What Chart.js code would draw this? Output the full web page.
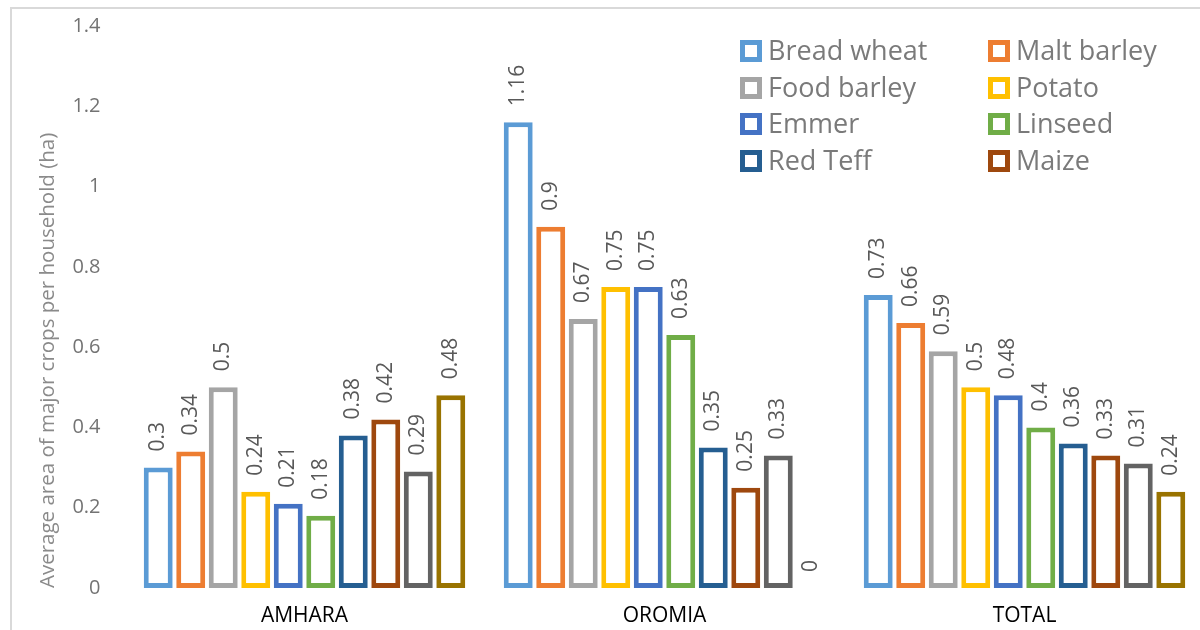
<!DOCTYPE html>
<html>
<head>
<meta charset="utf-8">
<title>Average area of major crops per household</title>
<script src="https://cdn.jsdelivr.net/npm/chart.js@4.4.0/dist/chart.umd.min.js"></script>
<style>
  html, body { margin: 0; padding: 0; background: #fff; overflow: hidden; }
  #wrap { position: absolute; left: 0; top: 0; width: 1215px; height: 630px; }
  #frame {
    position: absolute; left: 10px; top: 7px; width: 1300px; height: 700px;
    border-left: 2px solid #d9d9d9; border-top: 2px solid #d9d9d9;
    pointer-events: none;
  }
</style>
</head>
<body>
<div id="wrap"><canvas id="cropChart"></canvas></div>
<div id="frame"></div>
<script>
// ========================
// DATA
// ========================
const regions = ["AMHARA", "OROMIA", "TOTAL"];

const crops = [
  "Bread wheat", "Malt barley", "Food barley", "Potato", "Emmer",
  "Linseed", "Red Teff", "Maize", "Crop 9", "Crop 10"
];

// area per household (ha), one row per region, crops in the order above
const amhara = [0.3, 0.34, 0.5, 0.24, 0.21, 0.18, 0.38, 0.42, 0.29, 0.48];
const oromia = [1.16, 0.9, 0.67, 0.75, 0.75, 0.63, 0.35, 0.25, 0.33, 0];
const total  = [0.73, 0.66, 0.59, 0.5, 0.48, 0.4, 0.36, 0.33, 0.31, 0.24];

const yTicks = [0, 0.2, 0.4, 0.6, 0.8, 1, 1.2, 1.4];

const colors = [
  "#5B9BD5", "#ED7D31", "#A5A5A5", "#FFC000", "#4472C4",
  "#70AD47", "#255E91", "#9E480E", "#636363", "#997300"
];

// only the first eight crops are listed in the key
const legendCount = 8;

const FONT = "'Open Sans', sans-serif";

// ========================
// PLUGINS
// ========================
// value labels, turned on their side above each bar
const barValueLabels = {
  id: "barValueLabels",
  afterDatasetsDraw(chart) {
    const ctx = chart.ctx;
    ctx.save();
    ctx.fillStyle = "#595959";
    ctx.font = "21px " + FONT;
    ctx.textAlign = "left";
    ctx.textBaseline = "middle";
    chart.data.datasets.forEach((ds, i) => {
      const meta = chart.getDatasetMeta(i);
      meta.data.forEach((bar, j) => {
        ctx.save();
        ctx.translate(bar.x, bar.y - 16);
        ctx.rotate(-Math.PI / 2);
        ctx.fillText(String(ds.data[j]), 0, 0);
        ctx.restore();
      });
    });
    ctx.restore();
  }
};

// two-column key in the upper right
const boxKey = {
  id: "boxKey",
  afterDraw(chart) {
    const ctx = chart.ctx;
    const colX = [740, 988];
    const rowY = [51, 88, 124, 161];
    const box = 22;
    ctx.save();
    ctx.font = "27px " + FONT;
    ctx.textBaseline = "middle";
    ctx.textAlign = "left";
    for (let k = 0; k < legendCount; k++) {
      const x = colX[k % 2];
      const y = rowY[Math.floor(k / 2)];
      ctx.fillStyle = colors[k];
      ctx.fillRect(x, y - box / 2, box, box);
      ctx.fillStyle = "#fff";
      ctx.fillRect(x + 5, y - box / 2 + 5, box - 10, box - 10);
      ctx.fillStyle = "#7a7a7a";
      ctx.fillText(crops[k], x + 28, y + 1);
    }
    ctx.restore();
  }
};

// ========================
// CHART
// ========================
const rows = [amhara, oromia, total];

const datasets = crops.map((name, k) => ({
  label: name,
  data: rows.map(r => r[k]),
  backgroundColor: "#ffffff",
  borderColor: colors[k],
  borderWidth: 5,
  borderSkipped: false,
  barPercentage: 0.89,
  categoryPercentage: 0.903
}));

new Chart(document.getElementById("cropChart"), {
  type: "bar",
  data: { labels: regions, datasets },
  options: {
    responsive: true,
    maintainAspectRatio: false,
    animation: false,
    layout: { padding: { top: 26, right: 10.5, left: 0, bottom: 0 } },
    plugins: {
      legend: { display: false },
      tooltip: { enabled: false }
    },
    scales: {
      x: {
        grid: { display: false, drawTicks: false },
        border: { display: false },
        ticks: { color: "#000", font: { family: FONT, size: 21 }, padding: 15 },
        afterFit(scale) { scale.height = 42; }
      },
      y: {
        min: 0,
        max: 1.4,
        afterBuildTicks(scale) { scale.ticks = yTicks.map(v => ({ value: v })); },
        grid: { display: false, drawTicks: false },
        border: { display: false },
        ticks: {
          color: "#737373",
          font: { family: FONT, size: 20 },
          padding: 24,
          callback: v => String(v)
        },
        title: {
          display: true,
          text: "Average area of major crops per household (ha)",
          align: "start",
          color: "#8a8a8a",
          font: { family: FONT, size: 20.5 },
          padding: { top: 36 }
        },
        afterFit(scale) {
          // fixed axis width; tick padding should not push the plot down
          scale.width = 124.5;
          scale.paddingTop = 0;
          scale.paddingBottom = 0;
        }
      }
    }
  },
  plugins: [barValueLabels, boxKey]
});
</script>
</body>
</html>
